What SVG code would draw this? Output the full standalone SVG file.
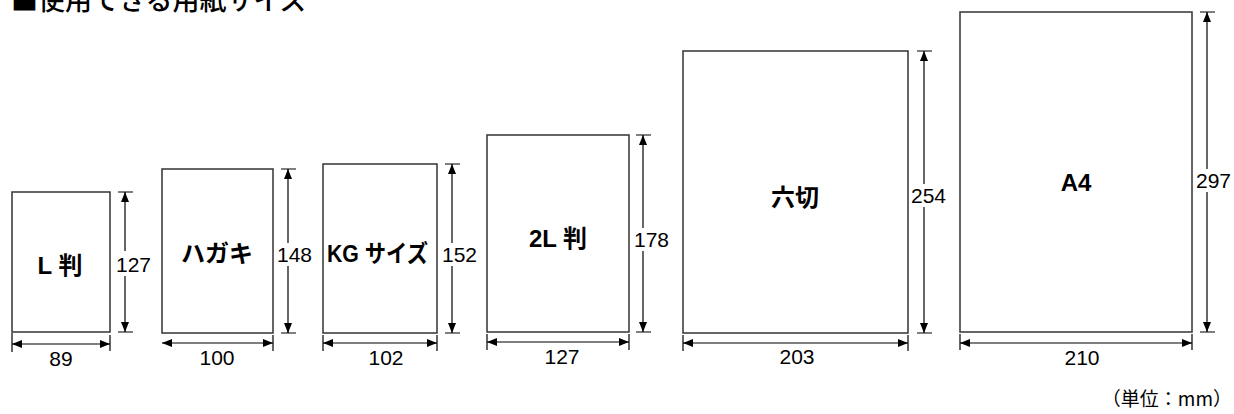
<svg xmlns="http://www.w3.org/2000/svg" width="1234" height="414" viewBox="0 0 1234 414">
<defs>
<marker id="ah" viewBox="0 0 10 8" refX="10" refY="4" markerWidth="10" markerHeight="8" markerUnits="userSpaceOnUse" orient="auto-start-reverse">
<path d="M0,0 L10,4 L0,8 z" fill="#000"/>
</marker>
<style>
.paper{fill:#fff;stroke:#333;stroke-width:1.5}
.dim{stroke:#000;stroke-width:1.2;fill:none}
.arr{stroke:#000;stroke-width:1.2;fill:none}
.num{font-family:"Liberation Sans",Arial,sans-serif;font-size:21px;fill:#000}
.lbl{font-family:"Liberation Sans","Noto Sans CJK JP",sans-serif;font-size:24px;font-weight:bold;fill:#000;text-anchor:middle}
.title{font-family:"Noto Sans CJK JP",sans-serif;font-size:27px;font-weight:500;fill:#000}
.unit{font-family:"Noto Sans CJK JP",sans-serif;font-size:19px;fill:#000}
</style>
</defs>
<rect width="1234" height="414" fill="#fff"/>
<text class="title" x="11" y="10">■使用できる用紙サイズ</text>

<g id="paper-L">
<rect class="paper" x="12" y="192" width="98" height="140"/>
<text class="lbl" x="60" y="274">L 判</text>
</g>
<g id="paper-hagaki">
<rect class="paper" x="162" y="169" width="111" height="164"/>
<text class="lbl" x="217" y="262">ハガキ</text>
</g>
<g id="paper-KG">
<rect class="paper" x="323" y="164" width="114" height="169"/>
<text class="lbl" x="327" y="262" style="text-anchor:start" textLength="101" lengthAdjust="spacingAndGlyphs">KG サイズ</text>
</g>
<g id="paper-2L">
<rect class="paper" x="487" y="135" width="142" height="197"/>
<text class="lbl" x="558" y="247">2L 判</text>
</g>
<g id="paper-rokugiri">
<rect class="paper" x="683" y="51" width="225" height="282"/>
<text class="lbl" x="795" y="206">六切</text>
</g>
<g id="paper-A4">
<rect class="paper" x="960" y="12" width="232" height="320"/>
<text class="lbl" x="1076" y="191">A4</text>
</g>

<g id="connectors">
<!-- L -->
<path class="dim" d="M118,192H133M118,332H133M12,333V352M110,335V351"/>
<path class="arr" d="M125,192V251" marker-start="url(#ah)"/>
<path class="arr" d="M125,276V332" marker-end="url(#ah)"/>
<path class="arr" d="M12,344H110" marker-start="url(#ah)" marker-end="url(#ah)"/>
<!-- hagaki -->
<path class="dim" d="M281,169H296M281,333H296M273,335V351"/>
<path class="arr" d="M288,169V243" marker-start="url(#ah)"/>
<path class="arr" d="M288,266V333" marker-end="url(#ah)"/>
<path class="arr" d="M162,343H273" marker-start="url(#ah)" marker-end="url(#ah)"/>
<!-- KG -->
<path class="dim" d="M445,164H460M445,333H460M323,335V351M437,335V351"/>
<path class="arr" d="M452,164V243" marker-start="url(#ah)"/>
<path class="arr" d="M452,266V333" marker-end="url(#ah)"/>
<path class="arr" d="M323,343H437" marker-start="url(#ah)" marker-end="url(#ah)"/>
<!-- 2L -->
<path class="dim" d="M636,135H651M636,332H651M487,334V350M629,334V350"/>
<path class="arr" d="M643,135V228" marker-start="url(#ah)"/>
<path class="arr" d="M643,251V332" marker-end="url(#ah)"/>
<path class="arr" d="M487,342H629" marker-start="url(#ah)" marker-end="url(#ah)"/>
<!-- rokugiri -->
<path class="dim" d="M917,51H932M917,333H932M683,335V351M908,335V351"/>
<path class="arr" d="M924,51V184" marker-start="url(#ah)"/>
<path class="arr" d="M924,207V333" marker-end="url(#ah)"/>
<path class="arr" d="M683,343H908" marker-start="url(#ah)" marker-end="url(#ah)"/>
<!-- A4 -->
<path class="dim" d="M1200,12H1215M1200,332H1215M960,334V350M1192,334V350"/>
<path class="arr" d="M1207,12V169" marker-start="url(#ah)"/>
<path class="arr" d="M1207,192V332" marker-end="url(#ah)"/>
<path class="arr" d="M960,343H1192" marker-start="url(#ah)" marker-end="url(#ah)"/>
</g>

<g id="dimension-labels">
<text class="num" x="116" y="272">127</text>
<text class="num" x="277" y="262">148</text>
<text class="num" x="442" y="262">152</text>
<text class="num" x="634" y="247">178</text>
<text class="num" x="911" y="203">254</text>
<text class="num" x="1196" y="188">297</text>
<text class="num" x="61" y="366" text-anchor="middle">89</text>
<text class="num" x="217" y="365" text-anchor="middle">100</text>
<text class="num" x="386" y="365" text-anchor="middle">102</text>
<text class="num" x="562" y="364" text-anchor="middle">127</text>
<text class="num" x="797" y="364" text-anchor="middle">203</text>
<text class="num" x="1082" y="365" text-anchor="middle">210</text>
</g>
<text class="unit" x="1232" y="406" text-anchor="end">（単位：mm）</text>
</svg>
